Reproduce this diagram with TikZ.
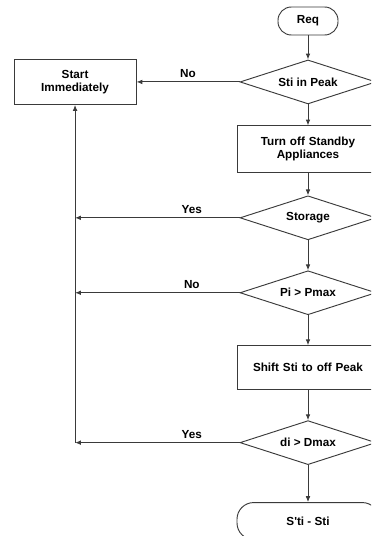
\documentclass[tikz,border=0pt]{standalone}
\usepackage{fontspec}
\setmainfont{Liberation Sans}
\usepackage{xcolor}
\usetikzlibrary{arrows.meta, positioning, shapes.geometric}

\definecolor{linegray}{HTML}{3A3A3A}

\begin{document}
\begin{tikzpicture}[
        font=\fontsize{10}{11}\selectfont\bfseries,
        terminal/.style={rectangle, rounded corners=0.4cm, draw=linegray, line width=0.8pt, text centered, minimum width=1.8cm, minimum height=0.84cm},
        process/.style={rectangle, draw=linegray, line width=0.8pt, text centered, text width=3.6cm, minimum width=4.26cm, minimum height=1.41cm},
        decision/.style={diamond, draw=linegray, line width=0.8pt, aspect=3, inner sep=0pt, text centered, minimum width=4.08cm, minimum height=1.32cm},
        relation/.style={-{Latex[length=5pt, width=4pt]}, draw=linegray, line width=0.8pt}
    ]
            \clip (0,0) rectangle (11.13,-16.08);

            \node[terminal] (req) at (9.24,-0.63) {Req};
            \node[decision, below=0.72cm of req] (peak) {Sti in Peak};
            \node[process, below=0.63cm of peak] (standby) {Turn off Standby\\Appliances};
            \node[decision, below=0.66cm of standby] (storage) {Storage};
            \node[decision, below=0.9cm of storage] (pmax) {Pi > Pmax};
            \node[process, below=0.9cm of pmax, minimum height=1.32cm] (shift) {Shift Sti to off Peak};
            \node[decision, below=0.9cm of shift] (dmax) {di > Dmax};
            \node[terminal, below=1.11cm of dmax, minimum width=4.26cm, minimum height=1.11cm, rounded corners=0.5cm] (final) {S\textquotesingle ti - Sti};
            \node[process, left=3.09cm of peak, text width=3cm, minimum width=3.66cm, minimum height=1.35cm] (start) {Start\\Immediately};

            % Main column
            \draw[relation] (req) -- (peak);
            \draw[relation] (peak) -- (standby);
            \draw[relation] (standby) -- (storage);
            \draw[relation] (storage) -- (pmax);
            \draw[relation] (pmax) -- (shift);
            \draw[relation] (shift) -- (dmax);
            \draw[relation] (dmax) -- (final);

            % Back to start
            \draw[relation] (peak) -- (start) node[midway, above] {No};
            \draw[relation] (storage) -- (storage -| start) node[pos=0.29, above] {Yes};
            \draw[relation] (pmax) -- (pmax -| start) node[pos=0.29, above] {No};
            \draw[relation] (dmax) -- (dmax -| start) node[pos=0.29, above] {Yes};
            \draw[relation] (dmax -| start) -- (start);
    \end{tikzpicture}
\end{document}
